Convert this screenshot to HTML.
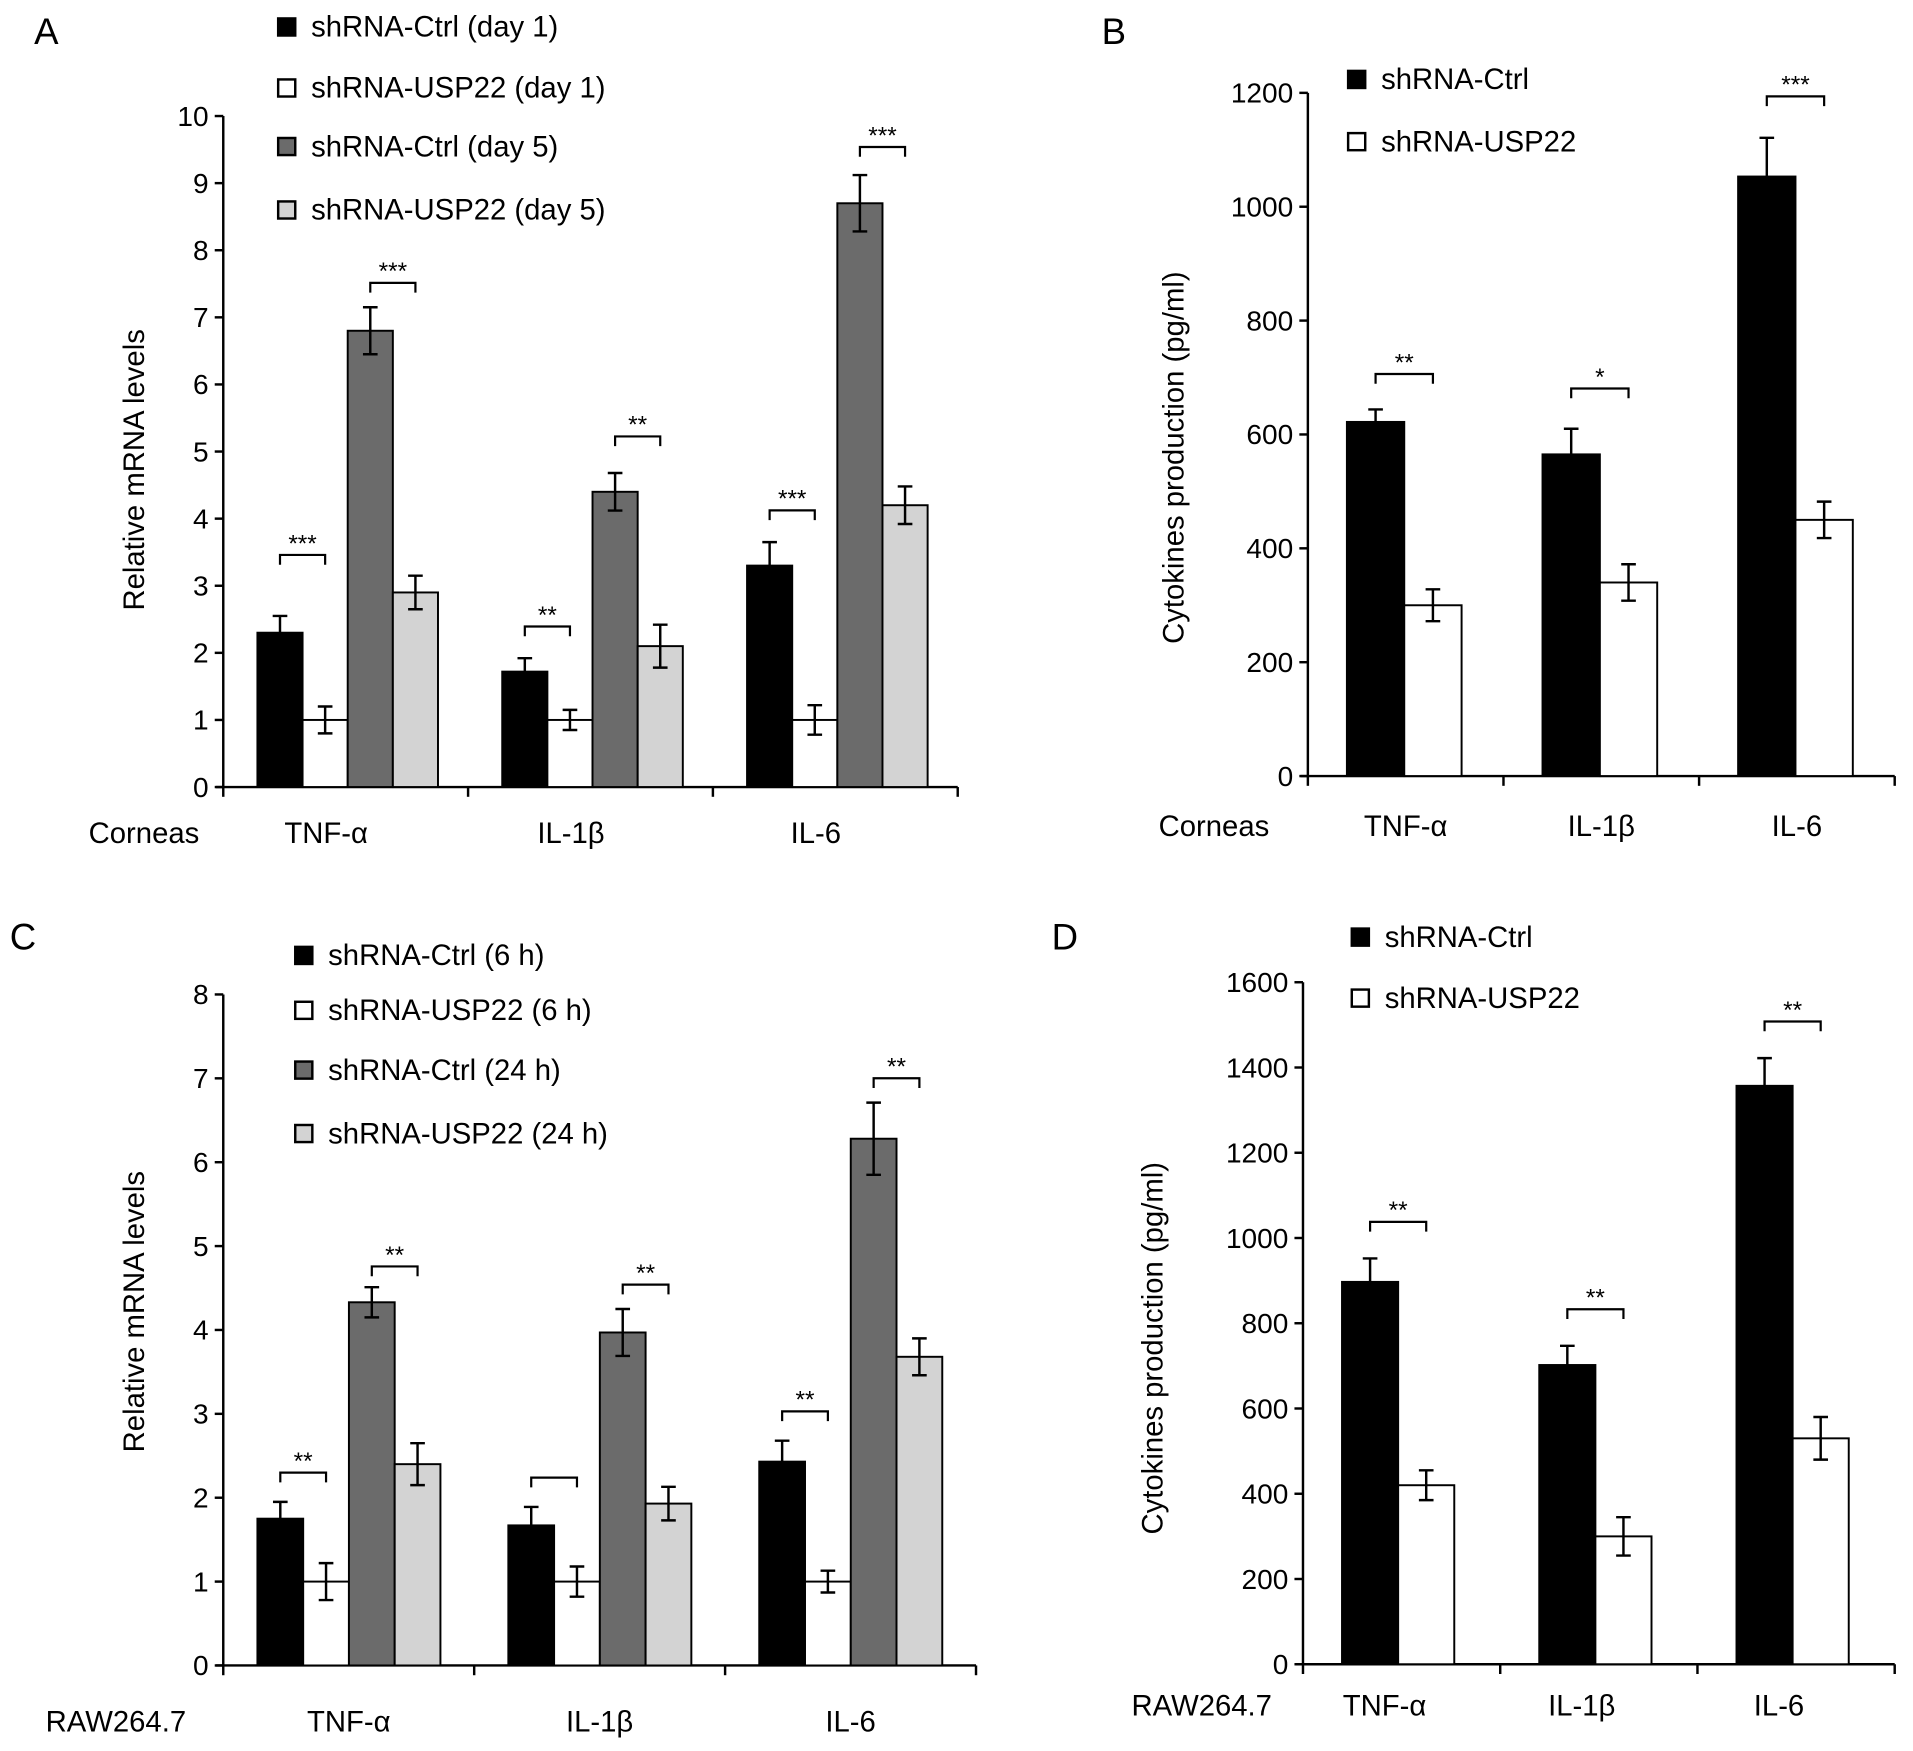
<!DOCTYPE html>
<html><head><meta charset="utf-8"><style>
html,body{margin:0;padding:0;background:#fff}
svg{display:block;font-family:"Liberation Sans",sans-serif}
</style></head><body>
<svg id="fig" width="1913" height="1751" viewBox="0 0 1568 1435" xmlns="http://www.w3.org/2000/svg"></svg>
<script>
const categories = ["TNF-α","IL-1β","IL-6"];
// Panel A
const aTicks = [0,1,2,3,4,5,6,7,8,9,10];
const aCtrlD1 = [2.3,1.72,3.3], aCtrlD1Err=[0.25,0.2,0.35];
const aUspD1 = [1.0,1.0,1.0], aUspD1Err=[0.2,0.15,0.22];
const aCtrlD5 = [6.8,4.4,8.7], aCtrlD5Err=[0.35,0.28,0.42];
const aUspD5 = [2.9,2.1,4.2], aUspD5Err=[0.25,0.32,0.28];
const aSig1 = ["***","**","***"], aSig2 = ["***","**","***"];
// Panel B
const bTicks = [0,200,400,600,800,1000,1200];
const bCtrl = [622,565,1053], bCtrlErr=[22,45,68];
const bUsp = [300,340,450], bUspErr=[28,32,32];
const bSig = ["**","*","***"];
// Panel C
const cTicks = [0,1,2,3,4,5,6,7,8];
const cCtrl6 = [1.75,1.67,2.43], cCtrl6Err=[0.2,0.22,0.25];
const cUsp6 = [1.0,1.0,1.0], cUsp6Err=[0.22,0.18,0.13];
const cCtrl24 = [4.33,3.97,6.28], cCtrl24Err=[0.18,0.28,0.43];
const cUsp24 = [2.4,1.93,3.68], cUsp24Err=[0.25,0.2,0.22];
const cSig1 = ["**","","**"], cSig2 = ["**","**","**"];
// Panel D
const dTicks = [0,200,400,600,800,1000,1200,1400,1600];
const dCtrl = [897,702,1357], dCtrlErr=[55,45,65];
const dUsp = [420,300,530], dUspErr=[35,45,50];
const dSig = ["**","**","**"];

const NS="http://www.w3.org/2000/svg";
const svg=document.getElementById('fig');
function el(tag,attrs,parent,text){const e=document.createElementNS(NS,tag);for(const k in attrs)e.setAttribute(k,attrs[k]);if(text!==undefined)e.textContent=text;(parent||svg).appendChild(e);return e;}
const FILLS={black:"#000",white:"#fff",dark:"#6b6b6b",light:"#d3d3d3"};

function panel(cfg){
  const g=el('g',{});
  
  
  const x0=cfg.x0,x1=cfg.x1,y0=cfg.y0,yTop=cfg.yTop,max=cfg.ticks[cfg.ticks.length-1];
  const Y=v=>y0-(v/max)*(y0-yTop);
  const gw=(x1-x0)/3;
  const ax=el('line',{x1:x0,y1:y0,x2:x0,y2:yTop,stroke:"#000","stroke-width":2},g);
  
  const bx=el('line',{x1:x0-6,y1:y0,x2:x1,y2:y0,stroke:"#000","stroke-width":2},g);
  
  cfg.ticks.forEach(t=>{
    el('line',{x1:x0-7,y1:Y(t),x2:x0,y2:Y(t),stroke:"#000","stroke-width":2},g);
    const tl=el('text',{x:x0-12,y:Y(t)+8,"text-anchor":"end","font-size":23},g,String(t));
    
  });
  for(let i=0;i<=3;i++){el('line',{x1:x0+gw*i,y1:y0,x2:x0+gw*i,y2:y0+8,stroke:"#000","stroke-width":2},g);}
  categories.forEach((c,ci)=>{
    const start=x0+gw*ci+cfg.pad;
    cfg.series.forEach((s,si)=>{
      const bx0=start+si*cfg.bw, v=s.vals[ci], e=s.err[ci];
      const r=el('rect',{x:bx0,y:Y(v),width:cfg.bw,height:y0-Y(v),fill:FILLS[s.fill],stroke:"#000","stroke-width":1.6},g);
      
      const cx=bx0+cfg.bw/2;
      el('path',{d:`M${cx},${Y(v+e)}V${Y(v-e)}M${cx-6},${Y(v+e)}H${cx+6}M${cx-6},${Y(v-e)}H${cx+6}`,stroke:"#000","stroke-width":2,fill:"none"},g);
    });
    cfg.sig.forEach(sg=>{
      const a=start+sg.pair[0]*cfg.bw+cfg.bw/2, b=start+sg.pair[1]*cfg.bw+cfg.bw/2;
      const hi=Math.max(...sg.pair.map(p=>cfg.series[p].vals[ci]+cfg.series[p].err[ci]));
      const gap=Array.isArray(sg.gap)?sg.gap[ci]:sg.gap;
      const yy=Y(hi)-gap;
      const br=el('path',{d:`M${a},${yy+8}V${yy}H${b}V${yy+8}`,stroke:"#000","stroke-width":1.8,fill:"none"},g);
      
      if(sg.labels[ci])el('text',{x:(a+b)/2,y:yy-3,"text-anchor":"middle","font-size":20},g,sg.labels[ci]);
    });
    const cl=el('text',{x:x0+gw*ci+gw/2+cfg.labOff,y:cfg.labY,"text-anchor":"middle","font-size":24},g,c);
    
  });
  const rl=el('text',{x:cfg.rowX,y:cfg.labY,"text-anchor":"middle","font-size":24},g,cfg.rowLabel);
  
  const yl=el('text',{x:0,y:0,transform:`translate(${cfg.ylX},${cfg.ylY}) rotate(-90)`,"text-anchor":"middle","font-size":24},g,cfg.ylabel);
  
  const pl=el('text',{x:cfg.letter[1],y:cfg.letter[2],"font-size":30},g,cfg.letter[0]);
  
  cfg.legend.forEach((L,i)=>{
    const lg=el('g',{},g);
    
    el('rect',{x:cfg.legX,y:L.y-7,width:14,height:14,fill:FILLS[L.fill],stroke:"#000","stroke-width":2},lg);
    el('text',{x:cfg.legX+27,y:L.y+8,"font-size":24},lg,L.text);
  });
}

panel({name:'panel-a',x0:183,x1:785,y0:645,yTop:95,ticks:aTicks,bw:37,pad:28,labOff:-16,labY:691,
  series:[{key:'ctrl-d1',vals:aCtrlD1,err:aCtrlD1Err,fill:'black'},{key:'usp-d1',vals:aUspD1,err:aUspD1Err,fill:'white'},
          {key:'ctrl-d5',vals:aCtrlD5,err:aCtrlD5Err,fill:'dark'},{key:'usp-d5',vals:aUspD5,err:aUspD5Err,fill:'light'}],
  sig:[{pair:[0,1],labels:aSig1,gap:[50,26,26]},{pair:[2,3],labels:aSig2,gap:[20,30,23]}],
  rowLabel:'Corneas',rowX:118,ylabel:'Relative mRNA levels',ylX:118,ylY:385,letter:['A',28,36],legX:228,
  legend:[{y:22,fill:'black',text:'shRNA-Ctrl (day 1)'},{y:72,fill:'white',text:'shRNA-USP22 (day 1)'},{y:120,fill:'dark',text:'shRNA-Ctrl (day 5)'},{y:172,fill:'light',text:'shRNA-USP22 (day 5)'}]});
panel({name:'panel-b',x0:1072,x1:1553,y0:636,yTop:76,ticks:bTicks,bw:47,pad:32,labOff:0,labY:685,
  series:[{key:'ctrl',vals:bCtrl,err:bCtrlErr,fill:'black'},{key:'usp',vals:bUsp,err:bUspErr,fill:'white'}],
  sig:[{pair:[0,1],labels:bSig,gap:[29,33,34]}],
  rowLabel:'Corneas',rowX:995,ylabel:'Cytokines production (pg/ml)',ylX:970,ylY:375,letter:['B',903,36],legX:1105,
  legend:[{y:65,fill:'black',text:'shRNA-Ctrl'},{y:116,fill:'white',text:'shRNA-USP22'}]});
panel({name:'panel-c',x0:183,x1:800,y0:1365,yTop:815,ticks:cTicks,bw:37.5,pad:28,labOff:0,labY:1419,
  series:[{key:'ctrl-6h',vals:cCtrl6,err:cCtrl6Err,fill:'black'},{key:'usp-6h',vals:cUsp6,err:cUsp6Err,fill:'white'},
          {key:'ctrl-24h',vals:cCtrl24,err:cCtrl24Err,fill:'dark'},{key:'usp-24h',vals:cUsp24,err:cUsp24Err,fill:'light'}],
  sig:[{pair:[0,1],labels:cSig1,gap:[24,24,24]},{pair:[2,3],labels:cSig2,gap:[17,20,20]}],
  rowLabel:'RAW264.7',rowX:95,ylabel:'Relative mRNA levels',ylX:118,ylY:1075,letter:['C',8,778],legX:242,
  legend:[{y:783,fill:'black',text:'shRNA-Ctrl (6 h)'},{y:828,fill:'white',text:'shRNA-USP22 (6 h)'},{y:877,fill:'dark',text:'shRNA-Ctrl (24 h)'},{y:929,fill:'light',text:'shRNA-USP22 (24 h)'}]});
panel({name:'panel-d',x0:1068,x1:1553,y0:1364,yTop:805,ticks:dTicks,bw:46,pad:32,labOff:-14,labY:1406,
  series:[{key:'ctrl',vals:dCtrl,err:dCtrlErr,fill:'black'},{key:'usp',vals:dUsp,err:dUspErr,fill:'white'}],
  sig:[{pair:[0,1],labels:dSig,gap:30}],
  rowLabel:'RAW264.7',rowX:985,ylabel:'Cytokines production (pg/ml)',ylX:953,ylY:1105,letter:['D',862,778],legX:1108,
  legend:[{y:768,fill:'black',text:'shRNA-Ctrl'},{y:818,fill:'white',text:'shRNA-USP22'}]});
</script>
</body></html>
